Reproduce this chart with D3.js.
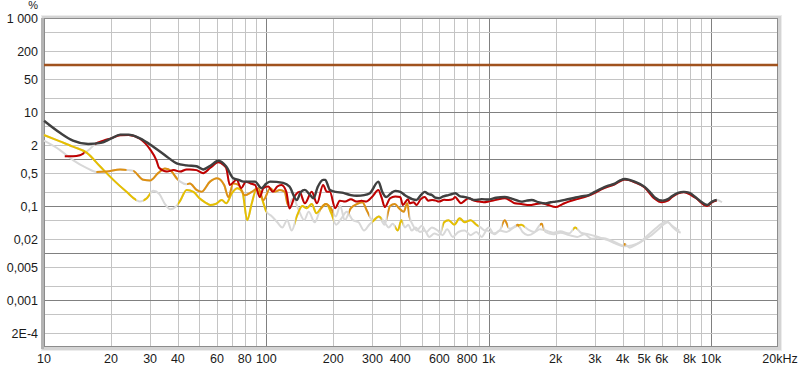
<!DOCTYPE html>
<html>
<head>
<meta charset="utf-8">
<script src="https://cdn.jsdelivr.net/npm/d3@7"></script>
<style>
body { margin: 0; background: #fff; }
svg { display: block; font-family: "Liberation Sans", Arial, sans-serif; }
</style>
</head>
<body>
<div id="vis"></div>
<script>
// distortion vs frequency, values in %
var fundamental = [[10,100],[20000,100]];

var thd = [[10,6.5],[11.8,3.6],[13.5,2.45],[15.8,2.08],[18,2.2],[20,2.7],[22,3.3],[24,3.3],[27,2.75],[31,1.83],[35.7,1.12],[39.5,0.81],[43.8,0.73],[48.5,0.7],[52,0.6],[56,0.72],[60.8,0.92],[66,0.69],[71,0.39],[75,0.36],[79,0.33],[89,0.33],[95,0.24],[100,0.3],[104,0.33],[119,0.31],[127,0.26],[137,0.134],[143,0.2],[149,0.22],[156,0.18],[163,0.146],[170,0.25],[180,0.36],[184,0.36],[193,0.22],[205,0.2],[222,0.19],[240,0.17],[255,0.165],[275,0.17],[292,0.187],[319,0.33],[332,0.2],[346,0.155],[365,0.19],[380,0.21],[400,0.2],[420,0.17],[434,0.155],[453,0.14],[473,0.134],[495,0.17],[515,0.2],[535,0.18],[557,0.17],[575,0.15],[596,0.146],[625,0.16],[659,0.171],[685,0.18],[707,0.187],[745,0.16],[783,0.155],[820,0.145],[867,0.134],[930,0.14],[992,0.137],[1080,0.15],[1180,0.155],[1290,0.14],[1400,0.124],[1480,0.13],[1560,0.134],[1680,0.12],[1800,0.114],[1900,0.12],[2000,0.124],[2200,0.135],[2380,0.146],[2600,0.16],[2820,0.171],[3000,0.2],[3230,0.238],[3450,0.27],[3690,0.3],[3900,0.35],[4090,0.375],[4300,0.36],[4530,0.33],[5010,0.258],[5300,0.2],[5560,0.155],[6060,0.13],[6400,0.14],[6690,0.163],[7100,0.19],[7540,0.2],[8000,0.19],[8490,0.155],[9000,0.125],[9600,0.105],[10100,0.124],[10600,0.134],[11200,0.12]];

var h2 = [[12.4,1.15],[13.5,1.15],[14.5,1.2],[15.2,1.35],[16,1.6],[17,2.1],[18.5,2.45],[20,2.75],[22,3.2],[24,3.25],[27,2.7],[30,1.6],[32,0.95],[33,0.64],[35.7,0.54],[38.3,0.58],[40.9,0.54],[43.8,0.6],[45.3,0.6],[48.5,0.58],[52,0.5],[56,0.65],[60.8,0.85],[64,0.75],[66,0.64],[68.5,0.28],[73.5,0.36],[77,0.24],[81,0.33],[85,0.3],[89,0.28],[93.5,0.155],[97,0.24],[102,0.26],[107,0.2],[112,0.26],[117,0.28],[123,0.2],[127,0.089],[135,0.171],[141,0.2],[149,0.114],[160,0.2],[169,0.114],[180,0.28],[187,0.2],[193,0.2],[204,0.09],[214,0.13],[226,0.124],[240,0.14],[254,0.124],[268,0.13],[281,0.124],[300,0.16],[319,0.22],[330,0.15],[341,0.095],[360,0.146],[380,0.16],[400,0.155],[411,0.105],[434,0.14],[441,0.114],[460,0.12],[473,0.105],[495,0.14],[515,0.155],[535,0.13],[557,0.134],[580,0.13],[596,0.124],[630,0.135],[659,0.134],[690,0.14],[707,0.155],[730,0.13],[750,0.114],[780,0.13],[813,0.146],[860,0.13],[905,0.124],[950,0.12],[1000,0.124],[1080,0.135],[1180,0.146],[1250,0.13],[1310,0.114],[1400,0.11],[1530,0.105],[1630,0.11],[1730,0.114],[1850,0.105],[2000,0.095],[2150,0.11],[2290,0.124],[2500,0.14],[2700,0.155],[2990,0.187],[3230,0.23],[3690,0.29],[4090,0.365],[4530,0.32],[5010,0.25],[5560,0.145],[5980,0.12],[6400,0.13],[6690,0.155],[7540,0.195],[8490,0.15],[9600,0.1],[10100,0.12],[10600,0.13]];

var h3 = [[10,2.45],[11.8,1.55],[13.5,0.95],[15.6,0.64],[17.2,0.53],[19.1,0.54],[22,0.6],[24,0.58],[25.2,0.56],[28,0.36],[30,0.35],[32.6,0.5],[35,0.63],[37.5,0.54],[39.5,0.39],[41,0.33],[43.8,0.29],[45.3,0.3],[48.5,0.22],[51,0.2],[55.8,0.33],[60,0.39],[64.6,0.28],[67.5,0.155],[71,0.3],[75,0.28],[80,0.17],[86,0.2],[92,0.24],[97,0.134],[104,0.24],[109,0.2],[115,0.22],[121,0.2],[125,0.105],[132,0.146],[140,0.08],[148,0.05],[155,0.075],[165,0.045],[175,0.085],[185,0.11],[195,0.09],[205,0.06],[215,0.1],[225,0.05],[240,0.09],[255,0.11],[270,0.12],[285,0.075],[300,0.05],[320,0.06],[340,0.04],[360,0.1],[378,0.11],[395,0.09],[415,0.075],[430,0.115],[440,0.06],[455,0.04],[475,0.03],[500,0.038],[525,0.028],[555,0.035],[590,0.03],[620,0.024],[650,0.032],[690,0.022],[730,0.028],[780,0.03],[830,0.024],[880,0.028],[930,0.022],[980,0.03],[1050,0.026],[1120,0.03],[1180,0.05],[1240,0.033],[1300,0.036],[1350,0.04],[1420,0.028],[1500,0.024],[1600,0.027],[1730,0.042],[1800,0.028],[1950,0.025],[2100,0.027],[2300,0.024],[2500,0.022],[2700,0.025],[2900,0.02],[3100,0.021],[3400,0.019],[3700,0.016],[4000,0.014],[4090,0.0155],[4300,0.013],[4600,0.015],[5000,0.019],[5400,0.024],[5800,0.032],[6100,0.04],[6400,0.045],[6700,0.036],[7000,0.03],[7300,0.027]];

var h4 = [[10,3.24],[11.8,2.37],[13.5,1.83],[15.6,1.35],[17.9,0.69],[20.5,0.36],[23.5,0.2],[26,0.134],[27,0.125],[29,0.146],[31,0.21],[33,0.18],[35,0.11],[37,0.085],[39,0.095],[41,0.13],[43.8,0.22],[47,0.2],[50,0.146],[53,0.12],[56,0.105],[59,0.11],[63,0.134],[66,0.114],[70,0.187],[74,0.238],[78,0.2],[82,0.05],[86,0.114],[90,0.22],[95,0.155],[100,0.076],[106,0.06],[112,0.045],[118,0.035],[124,0.05],[130,0.03],[137,0.06],[145,0.1],[152,0.09],[160,0.11],[168,0.07],[176,0.09],[186,0.11],[196,0.07],[206,0.04],[218,0.055],[230,0.075],[245,0.05],[260,0.045],[275,0.03],[290,0.04],[305,0.05],[320,0.06],[340,0.045],[355,0.035],[370,0.042],[390,0.03],[405,0.05],[420,0.035],[435,0.04],[450,0.03],[470,0.035],[490,0.028],[515,0.03],[540,0.022],[570,0.026],[600,0.024],[630,0.045],[660,0.05],[700,0.04],[740,0.055],[780,0.045],[830,0.05],[880,0.04],[920,0.035],[960,0.03],[1000,0.035],[1060,0.025],[1120,0.03],[1200,0.028],[1300,0.035],[1400,0.04],[1500,0.032],[1600,0.028],[1700,0.032],[1800,0.03],[1950,0.027],[2100,0.029],[2300,0.026],[2450,0.035],[2600,0.027],[2800,0.025],[3000,0.023],[3200,0.021],[3400,0.02],[3600,0.018],[3800,0.016],[4100,0.014],[4400,0.0145],[4800,0.017],[5100,0.022],[5400,0.028],[5700,0.035],[6000,0.042],[6300,0.048],[6600,0.04],[6900,0.034],[7200,0.03]];

// frequency ranges where each trace is shown greyed (below noise)
var thdGrey = [[10600,11200]];
var h2Grey = [[15.2,17]];
var h3Grey = [[10,17.2],[23.5,25.2],[40,44],[126,175],[200,235],[290,350],[440,1150],[1220,1330],[1370,1700],[1760,4050],[4130,7300]];
var h4Grey = [[26,28],[30,40],[100,135],[200,300],[330,380],[410,620],[900,1350],[1450,2400],[2500,7200]];

var xTicks = [10,20,30,40,60,80,100,200,300,400,600,800,1000,2000,3000,4000,5000,6000,8000,10000,20000];
var xTickLabels = ["10","20","30","40","60","80","100","200","300","400","600","800","1k","2k","3k","4k","5k","6k","8k","10k","20kHz"];
var yTicks = [1000,200,50,10,2,0.5,0.1,0.02,0.005,0.001,0.0002];
var yTickLabels = ["1 000","200","50","10","2","0,5","0,1","0,02","0,005","0,001","2E-4"];

var svg = d3.select('#vis').append('svg').attr('width', 800).attr('height', 371);

var x = d3.scaleLog().domain([10, 20000]).range([44, 778]);
var y = d3.scaleLog().domain([1e-4, 1000]).range([347, 18]);
var L = 44, T = 18, R = 778, B = 347;

// frame with a soft shadow
svg.append('rect').attr('x', L-3).attr('y', T-3).attr('width', R-L+7).attr('height', B-T+7).attr('fill', '#ececec');
svg.append('rect').attr('x', L-2).attr('y', T-2).attr('width', R-L+5).attr('height', B-T+5).attr('fill', '#d4d4d4');
svg.append('rect').attr('x', L-3).attr('y', T).attr('width', 3).attr('height', B-T+2).attr('fill', '#b4b4b4');
svg.append('rect').attr('x', L).attr('y', T).attr('width', R-L).attr('height', B-T).attr('fill', '#fff');

var isDecade = function(v) { return Math.abs(Math.log10(v) - Math.round(Math.log10(v))) < 1e-6; };

// vertical grid
var xGrid = x.ticks().filter(function(f) { return f > 10 && f < 20000; });
svg.selectAll('line.vg').data(xGrid).enter().append('line')
  .attr('class', 'vg')
  .attr('x1', function(d) { return Math.round(x(d)) + 0.5; })
  .attr('x2', function(d) { return Math.round(x(d)) + 0.5; })
  .attr('y1', T).attr('y2', B)
  .attr('stroke', function(d) { return isDecade(d) ? '#808080' : '#c4c4c4'; })
  .attr('stroke-width', 1);

// horizontal grid (1-2-5 steps)
var yGrid = y.ticks().filter(function(v) {
  var m = Math.round(v / Math.pow(10, Math.floor(Math.log10(v) + 1e-9)));
  return (m === 1 || m === 2 || m === 5) && v > 1e-4 && v < 1000;
});
svg.selectAll('line.hg').data(yGrid).enter().append('line')
  .attr('class', 'hg')
  .attr('x1', L).attr('x2', R)
  .attr('y1', function(d) { return Math.round(y(d)) + 0.5; })
  .attr('y2', function(d) { return Math.round(y(d)) + 0.5; })
  .attr('stroke', function(d) { return isDecade(d) ? '#808080' : '#c4c4c4'; })
  .attr('stroke-width', 1);

svg.append('rect').attr('x', L+0.5).attr('y', T+0.5).attr('width', R-L-1).attr('height', B-T-1)
  .attr('fill', 'none').attr('stroke', '#8c8c8c');

// axis labels
svg.selectAll('text.yl').data(yTicks).enter().append('text')
  .attr('class', 'yl')
  .attr('x', 38)
  .attr('y', function(d) { return y(d) + 5; })
  .attr('text-anchor', 'end')
  .attr('font-size', 12.5)
  .attr('fill', '#1a1a1a')
  .text(function(d, i) { return yTickLabels[i]; });

svg.append('text').attr('x', 38).attr('y', 9).attr('text-anchor', 'end')
  .attr('font-size', 11).attr('fill', '#1a1a1a').text('%');

svg.selectAll('text.xl').data(xTicks).enter().append('text')
  .attr('class', 'xl')
  .attr('x', function(d) { return x(d) + (d === 20000 ? 2 : 0); })
  .attr('y', 363)
  .attr('text-anchor', 'middle')
  .attr('font-size', 12.5)
  .attr('fill', '#1a1a1a')
  .text(function(d, i) { return xTickLabels[i]; });

// traces
var line = d3.line()
  .x(function(d) { return x(d[0]); })
  .y(function(d) { return y(d[1]); })
  .curve(d3.curveMonotoneX);

var plot = svg.append('g');
var traces = [
  { name: 'h4', data: h4, grey: h4Grey, color: '#e6bf00', w: 2 },
  { name: 'h3', data: h3, grey: h3Grey, color: '#de9012', w: 2 },
  { name: 'h2', data: h2, grey: h2Grey, color: '#c00000', w: 2 },
  { name: 'thd', data: thd, grey: thdGrey, color: '#404040', w: 2.4 }
];

// greyed underlay
traces.forEach(function(t) {
  plot.append('path').attr('d', line(t.data))
    .attr('fill', 'none').attr('stroke', '#d8d8d8').attr('stroke-width', 2)
    .attr('stroke-linejoin', 'round');
});

// coloured parts, clipped to the ranges outside the grey intervals
var defs = svg.append('defs');
traces.forEach(function(t) {
  var f0 = t.data[0][0], f1 = t.data[t.data.length - 1][0];
  var shown = [], cur = f0;
  t.grey.forEach(function(g) {
    if (g[0] > cur) shown.push([cur, g[0]]);
    cur = Math.max(cur, g[1]);
  });
  if (cur < f1) shown.push([cur, f1]);
  var cp = defs.append('clipPath').attr('id', 'clip-' + t.name);
  shown.forEach(function(s) {
    cp.append('rect').attr('x', x(s[0]) - (s[0] === f0 ? 3 : 0)).attr('y', 0)
      .attr('width', x(s[1]) - x(s[0]) + (s[0] === f0 ? 3 : 0) + (s[1] === f1 ? 3 : 0)).attr('height', 371);
  });
  plot.append('path').attr('d', line(t.data))
    .attr('clip-path', 'url(#clip-' + t.name + ')')
    .attr('fill', 'none').attr('stroke', t.color).attr('stroke-width', t.w)
    .attr('stroke-linejoin', 'round');
});

plot.append('path').attr('d', line(fundamental))
  .attr('fill', 'none').attr('stroke', '#a0521e').attr('stroke-width', 2.5);
</script>
</body>
</html>
